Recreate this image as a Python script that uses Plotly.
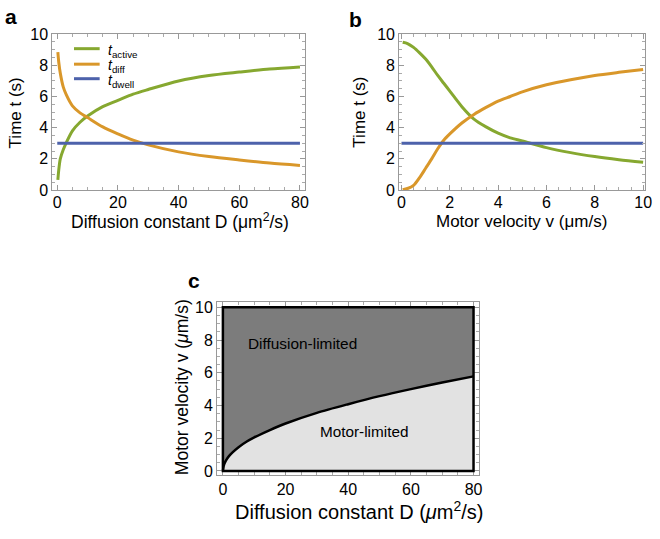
import plotly.graph_objects as go

# ---------------- data ----------------
# Panel a: times vs diffusion constant D
D_a = [0.2, 0.5, 1, 2, 3, 5, 7.5, 10, 15, 20, 25, 30, 40, 50, 60, 70, 80]
t_active_a = [0.65, 1.3, 2.0, 2.6, 3.05, 3.8, 4.35, 4.75, 5.35, 5.75, 6.15, 6.45, 7.0, 7.35, 7.57, 7.77, 7.9]
t_diff_a = [8.85, 8.2, 7.5, 6.6, 6.1, 5.4, 4.95, 4.65, 4.05, 3.6, 3.2, 2.9, 2.45, 2.15, 1.93, 1.73, 1.58]
D_dwell = [0, 80]
t_dwell_a = [3.0, 3.0]

# Panel b: times vs motor velocity v
v_b = [0.05, 0.25, 0.5, 0.75, 1, 1.25, 1.5, 1.75, 2, 2.5, 3, 3.5, 4, 4.5, 5, 6, 7, 8, 9, 10]
t_active_b = [9.48, 9.4, 9.15, 8.8, 8.4, 7.9, 7.35, 6.85, 6.35, 5.35, 4.55, 4.05, 3.65, 3.35, 3.15, 2.72, 2.4, 2.15, 1.95, 1.78]
t_diff_b = [0.02, 0.1, 0.3, 0.8, 1.4, 2.0, 2.65, 3.2, 3.6, 4.3, 4.85, 5.3, 5.7, 6.0, 6.3, 6.75, 7.08, 7.35, 7.55, 7.73]
v_dwell = [0, 10]
t_dwell_b = [3.0, 3.0]

# Panel c: boundary between regimes
D_c = [0, 0.25, 0.5, 1, 2, 3, 5, 7.5, 10, 15, 20, 30, 40, 50, 60, 70, 80]
v_c = [0, 0.3, 0.45, 0.65, 0.92, 1.12, 1.45, 1.78, 2.05, 2.5, 2.9, 3.55, 4.08, 4.57, 5.0, 5.4, 5.78]
v_max_c = 10

legend_names = ["active", "diff", "dwell"]

GREEN = "#86a830"
ORANGE = "#d9972a"
BLUE = "#4d62ab"
DARK = "#7c7c7c"
LIGHT = "#e2e2e2"
FONT = "Liberation Sans"
W, H = 660, 539

def px_x(p):
    return p / W

def px_y(p):
    return 1 - p / H

fig = go.Figure()
spl = dict(shape="spline", smoothing=0.8)

# Panel a
fig.add_trace(go.Scatter(x=D_a, y=t_active_a, mode="lines", line=dict(color=GREEN, width=3, **spl),
                         name="t_active", showlegend=False, xaxis="x", yaxis="y"))
fig.add_trace(go.Scatter(x=D_a, y=t_diff_a, mode="lines", line=dict(color=ORANGE, width=3, **spl),
                         name="t_diff", showlegend=False, xaxis="x", yaxis="y"))
fig.add_trace(go.Scatter(x=D_dwell, y=t_dwell_a, mode="lines", line=dict(color=BLUE, width=3),
                         name="t_dwell", showlegend=False, xaxis="x", yaxis="y"))

# Panel b
fig.add_trace(go.Scatter(x=v_b, y=t_active_b, mode="lines", line=dict(color=GREEN, width=3, **spl),
                         showlegend=False, xaxis="x2", yaxis="y2"))
fig.add_trace(go.Scatter(x=v_b, y=t_diff_b, mode="lines", line=dict(color=ORANGE, width=3, **spl),
                         showlegend=False, xaxis="x2", yaxis="y2"))
fig.add_trace(go.Scatter(x=v_dwell, y=t_dwell_b, mode="lines", line=dict(color=BLUE, width=3),
                         showlegend=False, xaxis="x2", yaxis="y2"))

# Panel c
top_c = [v_max_c] * len(D_c)
fig.add_trace(go.Scatter(x=D_c, y=top_c, mode="lines", line=dict(width=0), showlegend=False,
                         hoverinfo="skip", xaxis="x3", yaxis="y3"))
fig.add_trace(go.Scatter(x=D_c, y=v_c, mode="lines", line=dict(width=0, **spl), fill="tonexty",
                         fillcolor=DARK, showlegend=False, xaxis="x3", yaxis="y3"))
fig.add_trace(go.Scatter(x=D_c, y=v_c, mode="lines", line=dict(width=0, **spl), fill="tozeroy",
                         fillcolor=LIGHT, showlegend=False, xaxis="x3", yaxis="y3"))
fig.add_trace(go.Scatter(x=D_c, y=v_c, mode="lines", line=dict(color="black", width=2.5, **spl),
                         showlegend=False, xaxis="x3", yaxis="y3"))

fig.add_shape(type="rect", xref="x3", yref="y3", x0=min(D_c), x1=max(D_c), y0=0, y1=v_max_c,
              line=dict(color="black", width=2.5), fillcolor="rgba(0,0,0,0)", layer="above")

axis_common = dict(
    showline=True, mirror="ticks", linecolor="#999999", linewidth=1,
    ticks="inside", ticklen=5, tickcolor="#999999", tickwidth=1,
    showgrid=False, zeroline=False,
    tickfont=dict(family=FONT, size=16, color="black"),
)

def minor(d):
    return dict(dtick=d, ticks="inside", ticklen=3, tickcolor="#aaaaaa", showgrid=False)

fig.update_layout(
    width=W, height=H,
    margin=dict(l=0, r=0, t=0, b=0),
    paper_bgcolor="white", plot_bgcolor="white",
    font=dict(family=FONT, color="black"),
    showlegend=False,
    xaxis=dict(domain=[px_x(51), px_x(307)], range=[-1.63, 81.6], anchor="y", tickvals=[0, 20, 40, 60, 80],
               minor=minor(5), ticklabelstandoff=-2, **axis_common),
    yaxis=dict(domain=[px_y(188), px_y(27)], range=[0, 10], anchor="x", tickvals=[0, 2, 4, 6, 8, 10],
               minor=minor(0.5), **axis_common),
    xaxis2=dict(domain=[px_x(402.7), px_x(651.7)], range=[-0.094, 10.07], anchor="y2", tickvals=[0, 2, 4, 6, 8, 10],
                minor=minor(0.5), ticklabelstandoff=-2, **axis_common),
    yaxis2=dict(domain=[px_y(188), px_y(27)], range=[0, 10], anchor="x2", tickvals=[0, 2, 4, 6, 8, 10],
                minor=minor(0.5), **axis_common),
    xaxis3=dict(domain=[px_x(218), px_x(484)], range=[-1.875, 81.875], anchor="y3", tickvals=[0, 20, 40, 60, 80],
                minor=minor(5), **axis_common),
    yaxis3=dict(domain=[px_y(482), px_y(304)], range=[-0.237, 10.3], anchor="x3", tickvals=[0, 2, 4, 6, 8, 10],
                minor=minor(0.5), **axis_common),
)

def ann(text, x, y, size=17, angle=0, bold=False, xref="paper", yref="paper", xanchor="center"):
    if bold:
        text = "<b>" + text + "</b>"
    fig.add_annotation(text=text, x=x, y=y, xref=xref, yref=yref, showarrow=False,
                       font=dict(family=FONT, size=size, color="black"), textangle=angle,
                       xanchor=xanchor, yanchor="middle")

# manual legend for panel a
legend_colors = [GREEN, ORANGE, BLUE]
legend_rows = [42, 58, 73]
for name, col, ry in zip(legend_names, legend_colors, legend_rows):
    fig.add_shape(type="line", xref="paper", yref="paper", x0=px_x(73), x1=px_x(99),
                  y0=px_y(ry), y1=px_y(ry), line=dict(color=col, width=3))
    ann("<i>t</i><sub>" + name + "</sub>", px_x(105), px_y(ry + 2), size=14, xanchor="left")

# axis titles
ann("Time t (s)", px_x(14), px_y(108), angle=-90)
ann("Time t (s)", px_x(363), px_y(108), angle=-90)
ann("Diffusion constant D (μm<sup>2</sup>/s)", px_x(180), px_y(220), size=17.5)
ann("Motor velocity v (μm/s)", px_x(527), px_y(220))
ann("Diffusion constant D (<i>μ</i>m<sup>2</sup>/s)", px_x(362), px_y(519), size=20)
ann("Motor velocity v (<i>μ</i>m/s)", px_x(182), px_y(392), angle=-90, size=17.5)

# panel labels
ann("a", px_x(9), px_y(9), size=21, bold=True)
ann("b", px_x(358), px_y(12), size=21, bold=True)
ann("c", px_x(195), px_y(281), size=21, bold=True)

# region labels
ann("Diffusion-limited", 25.3, 7.8, size=15.4, xref="x3", yref="y3")
ann("Motor-limited", 45, 2.44, size=15.3, xref="x3", yref="y3")

css = ("var s=document.createElement('style');"
       "s.innerHTML='html,body{margin:0 !important;padding:0 !important;overflow:hidden !important;}';"
       "document.head.appendChild(s);")
fig.write_html("out.html", config={"displayModeBar": False}, post_script=css)
